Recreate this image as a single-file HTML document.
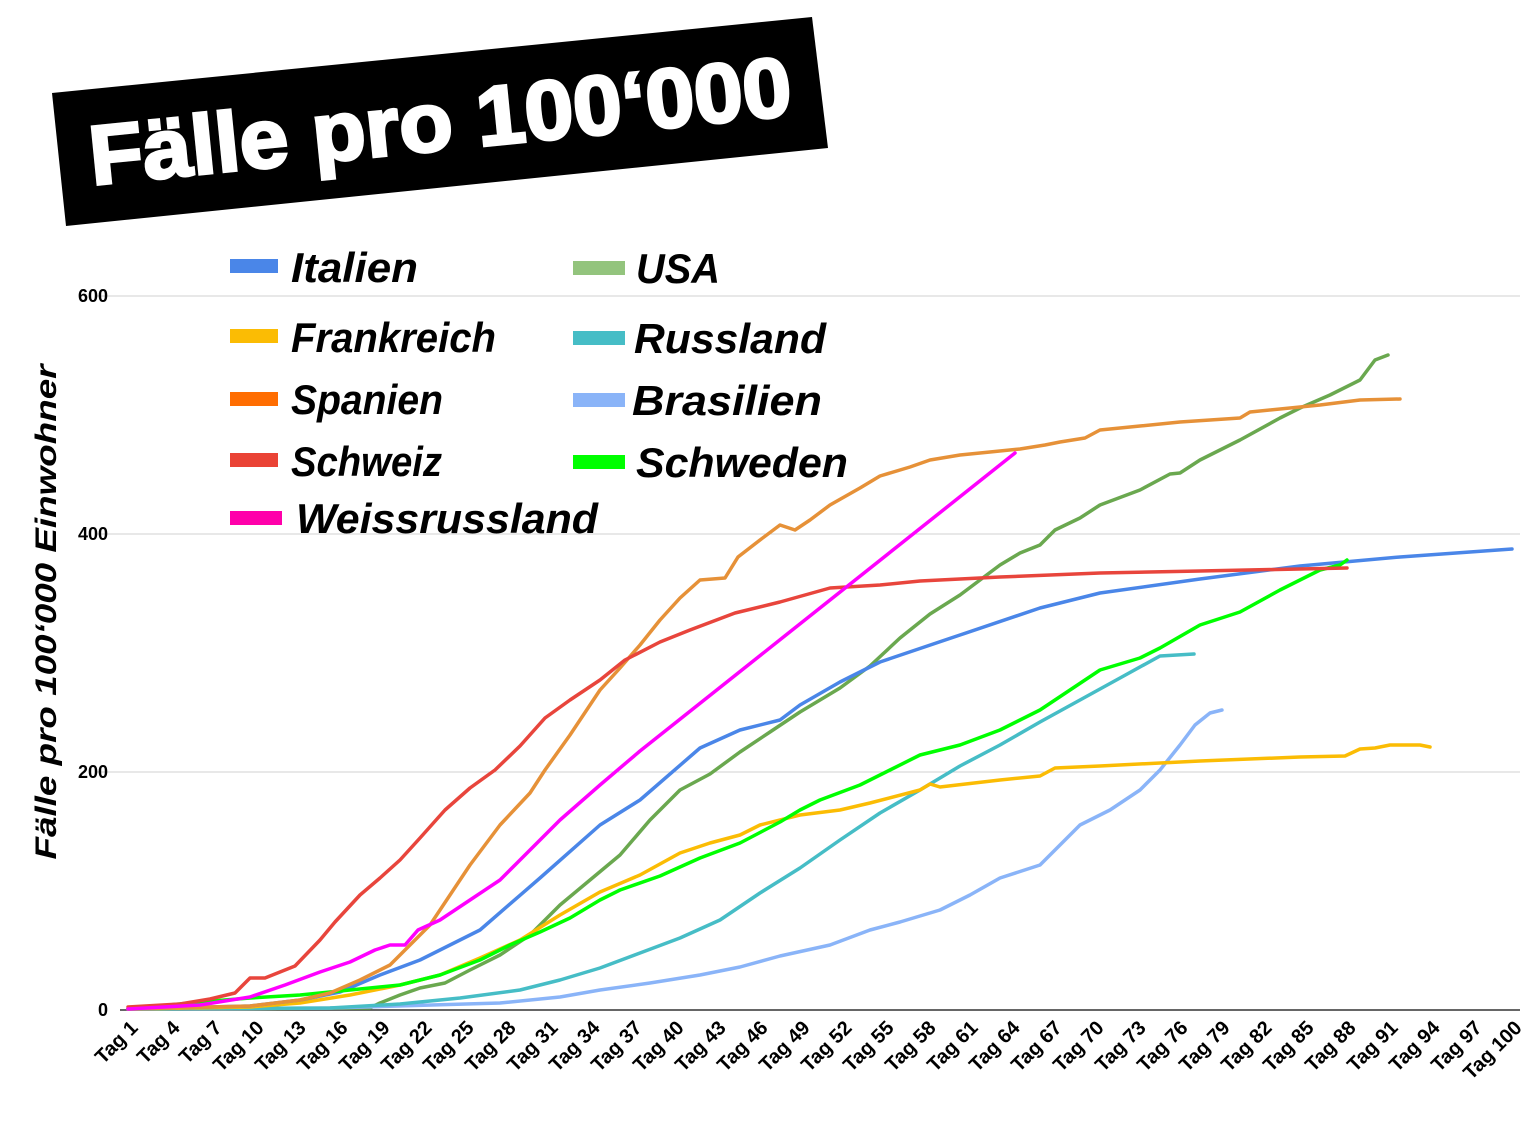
<!DOCTYPE html>
<html><head><meta charset="utf-8"><style>html,body{margin:0;padding:0;background:#fff}svg{display:block}</style></head>
<body>
<svg width="1536" height="1130" viewBox="0 0 1536 1130" xmlns="http://www.w3.org/2000/svg" font-family="Liberation Sans, sans-serif">
<polygon points="52,93 812,17 828,148 66,226" fill="#000"/>
<g transform="rotate(-5.7 440 120)">
<text x="440" y="150" fill="#fff" font-size="84" font-weight="bold" text-anchor="middle" textLength="705" lengthAdjust="spacingAndGlyphs" stroke="#fff" stroke-width="3">Fälle pro 100‘000</text>
</g>
<g stroke="#d0d0d0" stroke-width="1"><line x1="95" y1="296" x2="1520" y2="296"/><line x1="95" y1="534" x2="1520" y2="534"/><line x1="95" y1="772" x2="1520" y2="772"/></g>
<line x1="120" y1="1010" x2="1520" y2="1010" stroke="#333" stroke-width="1.5"/>
<g font-size="18" font-weight="bold" text-anchor="end" fill="#000">
<text x="108" y="302">600</text><text x="108" y="540">400</text><text x="108" y="778">200</text><text x="108" y="1016">0</text>
</g>
<text transform="translate(56 612) rotate(-90)" font-size="30" font-weight="bold" font-style="italic" text-anchor="middle" textLength="495" lengthAdjust="spacingAndGlyphs">Fälle pro 100‘000 Einwohner</text>
<g fill="none" stroke-width="3.5" stroke-linejoin="round" stroke-linecap="round">
<polyline stroke="#6aa84f" points="128,1009 370,1008 380,1003 400,995 420,988 445,983 470,970 500,955 530,935 560,905 590,880 620,855 650,820 680,790 710,774 740,752 770,732 800,712 840,688 870,666 900,638 930,614 960,595 1000,565 1020,553 1040,545 1055,530 1080,518 1100,505 1140,490 1170,474 1180,473 1200,460 1240,440 1280,418 1300,408 1330,395 1360,380 1375,360 1388,355"/>
<polyline stroke="#8ab4f8" points="128,1009 330,1008 500,1003 560,997 600,990 650,983 700,975 740,967 780,956 830,945 870,930 900,922 940,910 970,895 1000,878 1040,865 1080,825 1110,810 1140,790 1160,770 1180,745 1195,725 1210,713 1222,710"/>
<polyline stroke="#46bdc6" points="128,1009 330,1008 400,1004 460,998 520,990 560,980 600,968 640,953 680,938 720,920 760,893 800,868 840,840 880,813 920,790 960,766 1000,745 1040,722 1080,700 1120,678 1160,656 1194,654"/>
<polyline stroke="#fbbc04" points="128,1009 250,1007 300,1003 350,995 400,985 440,975 480,958 520,940 560,915 600,892 640,875 680,853 710,843 740,835 760,825 800,815 840,810 870,803 920,790 930,784 940,787 1000,780 1040,776 1055,768 1100,766 1200,761 1300,757 1345,756 1360,749 1375,748 1390,745 1420,745 1430,747"/>
<polyline stroke="#4a86e8" points="128,1009 250,1006 300,1000 340,992 380,975 420,960 480,930 540,878 600,825 640,800 700,748 740,730 780,720 800,705 840,682 880,662 960,635 1040,608 1100,593 1200,579 1300,566 1400,557 1512,549"/>
<polyline stroke="#00ff00" points="128,1009 200,1002 250,998 300,995 350,990 400,985 440,975 480,960 510,945 540,932 570,918 600,900 620,890 660,876 700,858 740,843 780,822 800,810 820,800 860,785 890,770 920,755 960,745 1000,730 1040,710 1070,690 1100,670 1140,658 1160,648 1200,625 1240,612 1280,590 1320,570 1340,565 1347,560"/>
<polyline stroke="#e69138" points="128,1009 250,1006 300,1000 330,993 360,980 390,965 410,945 430,925 450,895 470,865 500,825 530,793 545,770 570,735 600,690 620,668 640,645 660,620 680,598 700,580 725,578 738,557 760,540 780,525 795,530 810,520 830,505 860,488 880,476 910,467 930,460 960,455 990,452 1020,449 1045,445 1060,442 1085,438 1100,430 1140,426 1180,422 1240,418 1250,412 1320,405 1360,400 1400,399"/>
<polyline stroke="#e8453c" points="128,1007 180,1004 210,999 235,993 250,978 265,978 280,972 295,966 320,940 335,922 360,895 380,878 400,860 420,838 445,810 470,788 495,770 520,746 545,718 570,700 600,680 625,660 660,642 690,630 735,613 780,602 830,588 880,585 920,581 1000,577 1100,573 1200,571 1347,568"/>
<polyline stroke="#ff00ff" points="128,1009 200,1005 250,997 285,985 320,972 350,962 375,950 390,945 405,945 418,930 440,920 470,900 500,880 530,850 560,820 600,785 640,751 1015,453"/>
</g>
<g font-size="42" font-weight="bold" font-style="italic" fill="#000">
<rect x="230" y="259" width="48" height="14" fill="#4a86e8"/><text x="291" y="282" textLength="127" lengthAdjust="spacingAndGlyphs">Italien</text>
<rect x="573" y="261" width="52" height="14" fill="#93c47d"/><text x="636" y="283" textLength="84" lengthAdjust="spacingAndGlyphs">USA</text>
<rect x="230" y="329" width="48" height="14" fill="#fbbc04"/><text x="291" y="352" textLength="205" lengthAdjust="spacingAndGlyphs">Frankreich</text>
<rect x="573" y="331" width="52" height="14" fill="#46bdc6"/><text x="634" y="353" textLength="192" lengthAdjust="spacingAndGlyphs">Russland</text>
<rect x="230" y="392" width="48" height="14" fill="#ff6d01"/><text x="291" y="414" textLength="152" lengthAdjust="spacingAndGlyphs">Spanien</text>
<rect x="573" y="393" width="52" height="14" fill="#8ab4f8"/><text x="632" y="415" textLength="190" lengthAdjust="spacingAndGlyphs">Brasilien</text>
<rect x="230" y="453" width="48" height="14" fill="#ea4335"/><text x="291" y="476" textLength="151" lengthAdjust="spacingAndGlyphs">Schweiz</text>
<rect x="573" y="455" width="52" height="14" fill="#00ff00"/><text x="636" y="477" textLength="212" lengthAdjust="spacingAndGlyphs">Schweden</text>
<rect x="230" y="511" width="52" height="14" fill="#ff00aa"/><text x="296" y="533" textLength="302" lengthAdjust="spacingAndGlyphs">Weissrussland</text>
</g>
<g font-size="20" font-weight="bold" text-anchor="end" fill="#000">
<text transform="translate(139 1029) rotate(-45)">Tag 1</text>
<text transform="translate(181 1029) rotate(-45)">Tag 4</text>
<text transform="translate(223 1029) rotate(-45)">Tag 7</text>
<text transform="translate(265 1029) rotate(-45)">Tag 10</text>
<text transform="translate(307 1029) rotate(-45)">Tag 13</text>
<text transform="translate(349 1029) rotate(-45)">Tag 16</text>
<text transform="translate(391 1029) rotate(-45)">Tag 19</text>
<text transform="translate(433 1029) rotate(-45)">Tag 22</text>
<text transform="translate(475 1029) rotate(-45)">Tag 25</text>
<text transform="translate(517 1029) rotate(-45)">Tag 28</text>
<text transform="translate(559 1029) rotate(-45)">Tag 31</text>
<text transform="translate(601 1029) rotate(-45)">Tag 34</text>
<text transform="translate(643 1029) rotate(-45)">Tag 37</text>
<text transform="translate(685 1029) rotate(-45)">Tag 40</text>
<text transform="translate(727 1029) rotate(-45)">Tag 43</text>
<text transform="translate(769 1029) rotate(-45)">Tag 46</text>
<text transform="translate(811 1029) rotate(-45)">Tag 49</text>
<text transform="translate(853 1029) rotate(-45)">Tag 52</text>
<text transform="translate(895 1029) rotate(-45)">Tag 55</text>
<text transform="translate(937 1029) rotate(-45)">Tag 58</text>
<text transform="translate(979 1029) rotate(-45)">Tag 61</text>
<text transform="translate(1021 1029) rotate(-45)">Tag 64</text>
<text transform="translate(1063 1029) rotate(-45)">Tag 67</text>
<text transform="translate(1105 1029) rotate(-45)">Tag 70</text>
<text transform="translate(1147 1029) rotate(-45)">Tag 73</text>
<text transform="translate(1189 1029) rotate(-45)">Tag 76</text>
<text transform="translate(1231 1029) rotate(-45)">Tag 79</text>
<text transform="translate(1273 1029) rotate(-45)">Tag 82</text>
<text transform="translate(1315 1029) rotate(-45)">Tag 85</text>
<text transform="translate(1357 1029) rotate(-45)">Tag 88</text>
<text transform="translate(1399 1029) rotate(-45)">Tag 91</text>
<text transform="translate(1441 1029) rotate(-45)">Tag 94</text>
<text transform="translate(1483 1029) rotate(-45)">Tag 97</text>
<text transform="translate(1523 1029) rotate(-45)">Tag 100</text>
</g>
</svg>
</body></html>
